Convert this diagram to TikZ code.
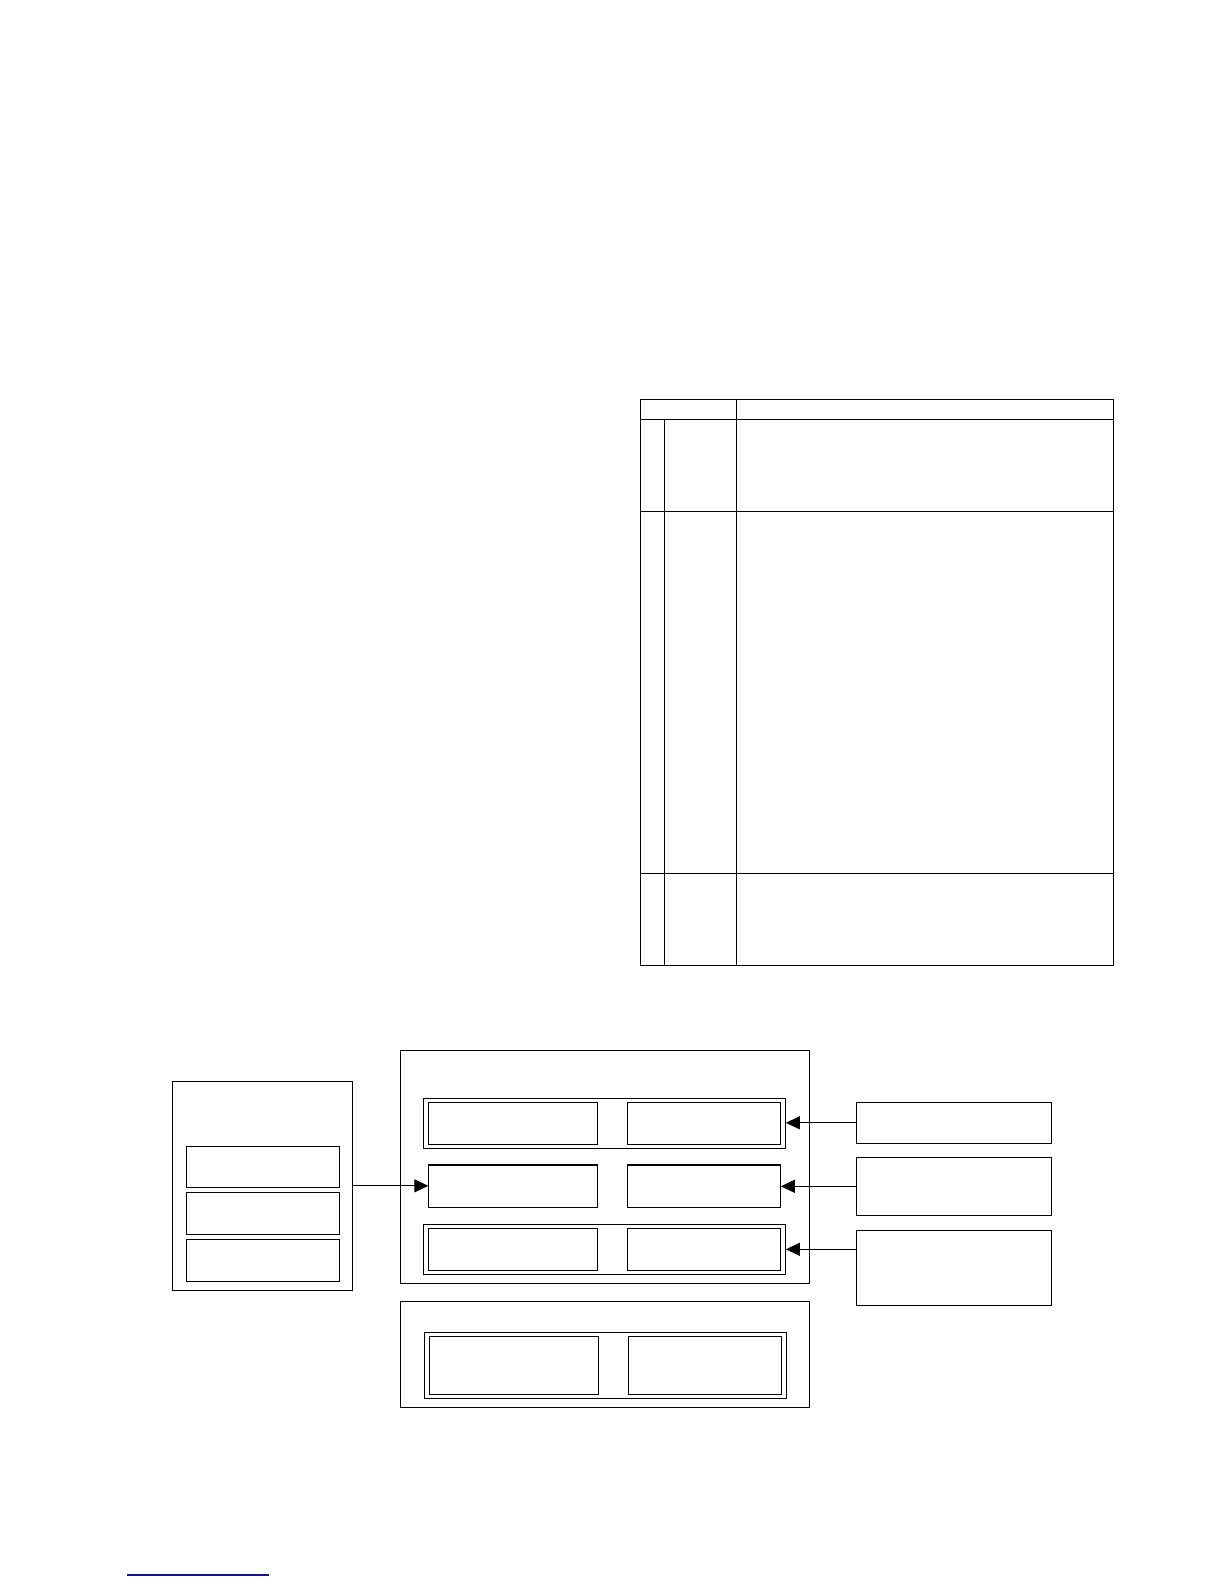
\documentclass[tikz,border=0pt]{standalone}
\usetikzlibrary{arrows.meta}
\definecolor{linkblue}{RGB}{20,20,140}
\tikzset{
  box/.style={draw, line width=1.1pt, inner sep=0pt, outer sep=0pt},
  rule/.style={line width=1.2pt},
  arr/.style={line width=1.1pt, -{Triangle[length=14pt,width=13pt]}},
}
\newcommand\mkbox[6][]{\node[box,#1,minimum width={(#5-#3)*1pt},minimum height={(#6-#4)*1pt}] (#2) at ({(#3+#5)/2},{(#4+#6)/2}) {};}
\begin{document}
\begin{tikzpicture}[x=1pt,y=-1pt]
\useasboundingbox (0,0) rectangle (1224,1584);
% table
\draw[rule] (640.7,399.3) rectangle (1113.3,965.7);
\draw[rule] (640.7,419.3) -- (1113.3,419.3);
\draw[rule] (640.7,511.7) -- (1113.3,511.7);
\draw[rule] (640.7,873.3) -- (1113.3,873.3);
\draw[rule] (736.7,399.3) -- (736.7,965.7);
\draw[rule] (664.3,419.3) -- (664.3,965.7);
% left box
\mkbox{L}{172.3}{1081.3}{352.7}{1290.3}
\mkbox{L1}{186.3}{1146.3}{339.7}{1187.3}
\mkbox{L2}{186.3}{1192.3}{339.7}{1234.3}
\mkbox{L3}{186.3}{1239.3}{339.7}{1281.3}
% main box
\mkbox{M}{400.5}{1050.3}{809.5}{1283.3}
\mkbox{F1}{423.5}{1098.3}{785.8}{1148.3}
\mkbox{F3}{423.5}{1224.3}{785.8}{1274.3}
\mkbox{A1}{428.3}{1102.3}{597.9}{1144.3}
\mkbox{B1}{627.5}{1102.3}{780.8}{1144.3}
\mkbox{A2}{428.3}{1165.0}{597.9}{1207.3}
\mkbox{B2}{627.5}{1165.0}{780.8}{1207.3}
\mkbox{A3}{428.3}{1228.3}{597.9}{1270.3}
\mkbox{B3}{627.5}{1228.3}{780.8}{1270.3}
% bottom box
\mkbox{N}{400.7}{1301.7}{809.3}{1407.3}
\mkbox{G}{424.3}{1332.3}{786.7}{1398.3}
\mkbox{C1}{429.3}{1336.3}{598.3}{1394.3}
\mkbox{D1}{628.3}{1336.3}{781.7}{1394.3}
% right boxes
\mkbox{R1}{856.3}{1102.3}{1051.5}{1143.3}
\mkbox{R2}{856.3}{1157.3}{1051.5}{1215.3}
\mkbox{R3}{856.3}{1230.3}{1051.5}{1305.3}
% arrows
\draw[arr] (L.east) -- (L.east -| A2.west);
\draw[arr] (R1.west) -- (R1.west -| F1.east);
\draw[arr] (R2.west) -- (R2.west -| B2.east);
\draw[arr] (F3.east -| R3.west) -- (F3.east);
% footnote rule
\coordinate (fa) at (127.3,1575);
\coordinate (fb) at (269,1575);
\draw[linkblue, line width=1.3pt] (fa) -- (fb);
\end{tikzpicture}
\end{document}
